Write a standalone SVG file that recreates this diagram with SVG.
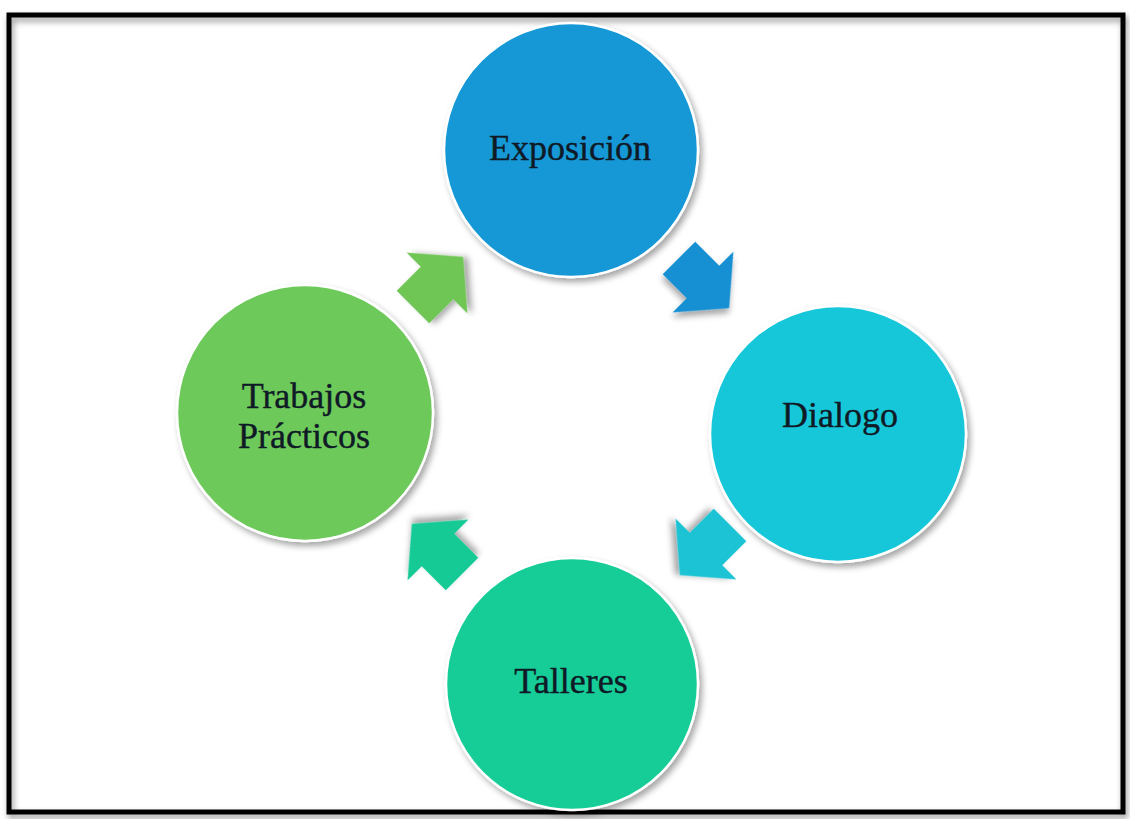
<svg xmlns="http://www.w3.org/2000/svg" width="1130" height="819" viewBox="0 0 1130 819">
  <defs>
    <filter id="sh" x="-20%" y="-20%" width="140%" height="140%">
      <feDropShadow dx="3" dy="4" stdDeviation="3" flood-color="#000" flood-opacity="0.35"/>
    </filter>
    <filter id="bsh" x="-5%" y="-5%" width="110%" height="110%">
      <feDropShadow dx="2" dy="4" stdDeviation="3" flood-color="#000" flood-opacity="0.4"/>
    </filter>
    <polygon id="arr" points="-34,-23 0,-23 0,-43 37,0 0,43 0,23 -34,23"/>
  </defs>
  <style>
    .node circle { stroke: #ffffff; stroke-width: 2.5; filter: url(#sh); }
    .lbl { font-family: "Liberation Serif", "Times New Roman", serif; font-size: 36px; fill: #0f1a26; stroke: #0f1a26; stroke-width: 0.4; text-anchor: middle; }
    .conn use { filter: url(#sh); }
  </style>
  <rect x="0" y="0" width="1130" height="819" fill="#ffffff"/>
  <rect x="9" y="15" width="1114" height="797" fill="none" stroke="#000" stroke-width="5" filter="url(#bsh)"/>

  <g id="connectors" class="conn">
    <use href="#arr" transform="translate(437,283) rotate(-45)" fill="#70c654"/>
    <use href="#arr" transform="translate(703,282) rotate(45)" fill="#1690d2"/>
    <use href="#arr" transform="translate(706,549) rotate(135)" fill="#1ec3d4"/>
    <use href="#arr" transform="translate(438,550) rotate(-135)" fill="#17ca96"/>
  </g>

  <g id="node-exposicion" class="node">
    <circle cx="571" cy="150" r="127" fill="#1498d6"/>
    <text class="lbl" x="570" y="160">Exposición</text>
  </g>
  <g id="node-dialogo" class="node">
    <circle cx="838" cy="434" r="128" fill="#16c7d9"/>
    <text class="lbl" x="840" y="427">Dialogo</text>
  </g>
  <g id="node-talleres" class="node">
    <circle cx="572" cy="684" r="126" fill="#17cd98"/>
    <text class="lbl" x="571" y="693">Talleres</text>
  </g>
  <g id="node-trabajos" class="node">
    <circle cx="305" cy="413" r="128" fill="#6dc95a"/>
    <text class="lbl" x="304" y="408">Trabajos</text>
    <text class="lbl" x="304" y="448">Prácticos</text>
  </g>
</svg>
